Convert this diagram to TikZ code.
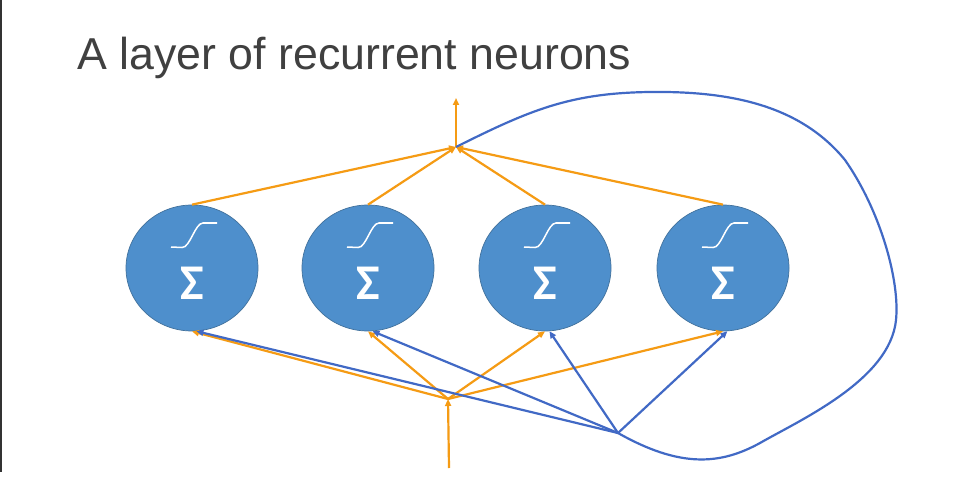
\documentclass[tikz,border=0pt]{standalone}
\usepackage{fontspec}
\setmainfont{Liberation Sans}
\newfontfamily\sigfont{Carlito}
\usetikzlibrary{arrows.meta,shapes.geometric}
\definecolor{neufill}{HTML}{4E8FCC}
\definecolor{neuedge}{HTML}{41719C}
\definecolor{orline}{HTML}{F59B14}
\definecolor{blline}{HTML}{4169C5}
\definecolor{titlegray}{HTML}{404040}
\tikzset{
  neuron/.style={ellipse,fill=neufill,draw=neuedge,line width=0.7pt,minimum width=132pt,minimum height=126pt,inner sep=0pt},
  orarrow/.style={draw=orline,line width=2.2pt,-{Triangle[length=7pt,width=6pt]}},
  blarrow/.style={draw=blline,line width=2.2pt,-{Triangle[length=7pt,width=6pt]}},
  sigm/.style={draw=white,line width=1.5pt},
  sumlabel/.style={text=white,font=\sigfont\bfseries\fontsize{50}{50}\selectfont,inner sep=0pt}
}
\begin{document}
\begin{tikzpicture}[x=1pt,y=-1pt]
\useasboundingbox (0,0) rectangle (973,478);
\fill[white] (0,0) rectangle (973,478);
\fill[black!80] (0,0) rectangle (2.2,472);
% title
\node[anchor=base west,inner sep=0pt,text=titlegray,font=\fontsize{44.7}{50}\selectfont] (title) at (77,70) {A layer of recurrent neurons};
% neurons
\foreach \i/\x in {1/192,2/368,3/545,4/723}{
  \node[neuron] (n\i) at (\x,268) {};
  \draw[sigm] (\x,268) ++(-21,-21) -- ++(11,0.5) .. controls ++(8,0.5) and ++(-8,0) .. ++(21,-24.5) -- ++(14,0);
  \node[sumlabel] (s\i) at (\x,283) {Σ};
}
% junctions
\coordinate (jt) at (456,147);
\coordinate (out) at (456,98);
\coordinate (jo) at (448,399);
\coordinate (in) at (449,468);
\coordinate (jb) at (618,433);
% output
\foreach \i in {1,...,4}{ \draw[orarrow] (n\i.north) -- (jt); }
\draw[orarrow] (jt) -- (out);
% input
\draw[orarrow] (in) -- (jo);
\foreach \i in {1,...,4}{ \draw[orarrow] (jo) -- (n\i.south); }
% recurrent loop
\draw[blline,line width=2.2pt] (jt) .. controls (530,110) and (570,93) .. (650,92)
  .. controls (730,91) and (800,105) .. (845,160)
  .. controls (880,210) and (900,280) .. (896,320)
  .. controls (890,380) and (800,420) .. (760,443)
  .. controls (720,465) and (680,468) .. (jb);
\foreach \i in {1,...,4}{ \draw[blarrow] (jb) -- (n\i.-86); }
\end{tikzpicture}
\end{document}
